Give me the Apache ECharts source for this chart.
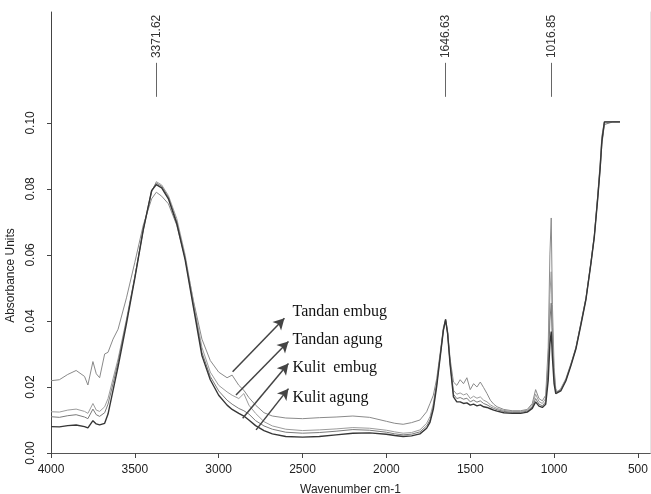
<!DOCTYPE html>
<html>
<head>
<meta charset="utf-8">
<title>FTIR spectra</title>
<script src="https://cdn.jsdelivr.net/npm/echarts@6/dist/echarts.min.js"></script>
<style>
  html, body { margin: 0; padding: 0; background: #fff; }
  #main { width: 651px; height: 494px; }
</style>
</head>
<body>
<div id="main"></div>
<script>
// wavenumber (cm-1), shared by the four spectra
const wavenumbers = [
  4000, 3950, 3900, 3850, 3800, 3780, 3750, 3730, 3710, 3680,
  3660, 3630, 3600, 3550, 3500, 3450, 3400, 3372, 3340, 3300,
  3250, 3200, 3150, 3100, 3050, 3000, 2950, 2920, 2880, 2850,
  2820, 2780, 2730, 2680, 2600, 2500, 2400, 2300, 2200, 2100,
  2000, 1950, 1900, 1850, 1800, 1760, 1740, 1720, 1700, 1680,
  1660, 1647, 1635, 1620, 1600, 1580, 1560, 1540, 1520, 1500,
  1480, 1460, 1440, 1420, 1400, 1380, 1360, 1340, 1300, 1250,
  1200, 1160, 1130, 1110, 1090, 1070, 1050, 1035, 1025, 1017,
  1010, 1000, 990, 980, 960, 930, 900, 870, 840, 810,
  780, 760, 740, 725, 715, 700, 650, 607
]

// absorbance, Tandan embug
const tandanEmbug = [
  0.0219, 0.0222, 0.0238, 0.0250, 0.0232, 0.0206, 0.0277, 0.0240, 0.0228, 0.0300,
  0.0305, 0.0345, 0.0375, 0.0470, 0.0578, 0.0690, 0.0770, 0.0790, 0.0778, 0.0755,
  0.0690, 0.0590, 0.0460, 0.0345, 0.0280, 0.0245, 0.0228, 0.0236, 0.0205, 0.0190,
  0.0168, 0.0145, 0.0122, 0.0112, 0.0106, 0.0104, 0.0107, 0.0109, 0.0112, 0.0108,
  0.0096, 0.0090, 0.0087, 0.0092, 0.0100, 0.0125, 0.0150, 0.0175, 0.0225, 0.0300,
  0.0380, 0.0405, 0.0370, 0.0285, 0.0215, 0.0205, 0.0222, 0.0210, 0.0228, 0.0192,
  0.0210, 0.0200, 0.0215, 0.0198, 0.0180, 0.0160, 0.0148, 0.0140, 0.0132, 0.0128,
  0.0128, 0.0132, 0.0150, 0.0192, 0.0165, 0.0158, 0.0175, 0.0320, 0.0600, 0.0712,
  0.0450, 0.0260, 0.0195, 0.0185, 0.0195, 0.0225, 0.0270, 0.0320, 0.0395, 0.0470,
  0.0580, 0.0660, 0.0780, 0.0880, 0.0960, 0.1003, 0.1003, 0.1003
]

// absorbance, Tandan agung
const tandanAgung = [
  0.0125, 0.0124, 0.0130, 0.0133, 0.0126, 0.0120, 0.0150, 0.0130, 0.0126, 0.0140,
  0.0165, 0.0225, 0.0285, 0.0405, 0.0535, 0.0675, 0.0790, 0.0822, 0.0812, 0.0780,
  0.0710, 0.0600, 0.0455, 0.0320, 0.0245, 0.0205, 0.0185, 0.0175, 0.0165, 0.0180,
  0.0145, 0.0120, 0.0095, 0.0082, 0.0072, 0.0068, 0.0070, 0.0073, 0.0077, 0.0075,
  0.0069, 0.0064, 0.0060, 0.0062, 0.0070, 0.0090, 0.0110, 0.0150, 0.0215, 0.0295,
  0.0375, 0.0402, 0.0365, 0.0275, 0.0190, 0.0178, 0.0182, 0.0176, 0.0180, 0.0165,
  0.0172, 0.0166, 0.0170, 0.0160, 0.0155, 0.0146, 0.0140, 0.0135, 0.0129, 0.0126,
  0.0126, 0.0130, 0.0145, 0.0178, 0.0156, 0.0150, 0.0165, 0.0280, 0.0480, 0.0549,
  0.0380, 0.0240, 0.0190, 0.0183, 0.0193, 0.0222, 0.0268, 0.0318, 0.0392, 0.0468,
  0.0578, 0.0658, 0.0775, 0.0870, 0.0945, 0.1000, 0.1003, 0.1003
]

// absorbance, Kulit embug
const kulitEmbug = [
  0.0110, 0.0108, 0.0113, 0.0116, 0.0109, 0.0104, 0.0133, 0.0116, 0.0111, 0.0122,
  0.0148, 0.0210, 0.0275, 0.0400, 0.0533, 0.0678, 0.0795, 0.0818, 0.0808, 0.0775,
  0.0700, 0.0590, 0.0445, 0.0305, 0.0232, 0.0188, 0.0160, 0.0148, 0.0135, 0.0128,
  0.0118, 0.0098, 0.0082, 0.0072, 0.0063, 0.0060, 0.0062, 0.0066, 0.0071, 0.0069,
  0.0063, 0.0058, 0.0055, 0.0057, 0.0064, 0.0082, 0.0100, 0.0140, 0.0208, 0.0290,
  0.0372, 0.0400, 0.0362, 0.0270, 0.0178, 0.0165, 0.0168, 0.0163, 0.0166, 0.0155,
  0.0160, 0.0154, 0.0158, 0.0150, 0.0146, 0.0140, 0.0135, 0.0131, 0.0126, 0.0123,
  0.0123, 0.0127, 0.0140, 0.0165, 0.0148, 0.0143, 0.0155, 0.0250, 0.0400, 0.0454,
  0.0330, 0.0225, 0.0185, 0.0180, 0.0190, 0.0220, 0.0266, 0.0316, 0.0390, 0.0466,
  0.0575, 0.0655, 0.0770, 0.0860, 0.0935, 0.0995, 0.1003, 0.1003
]

// absorbance, Kulit agung
const kulitAgung = [
  0.0080, 0.0079, 0.0083, 0.0085, 0.0080, 0.0076, 0.0098, 0.0088, 0.0085, 0.0090,
  0.0118, 0.0190, 0.0262, 0.0392, 0.0530, 0.0675, 0.0795, 0.0813, 0.0803, 0.0770,
  0.0695, 0.0585, 0.0440, 0.0295, 0.0222, 0.0175, 0.0145, 0.0132, 0.0120, 0.0112,
  0.0100, 0.0083, 0.0068, 0.0058, 0.0050, 0.0048, 0.0050, 0.0055, 0.0060, 0.0061,
  0.0057, 0.0053, 0.0050, 0.0052, 0.0058, 0.0075, 0.0093, 0.0133, 0.0202, 0.0287,
  0.0372, 0.0405, 0.0362, 0.0268, 0.0170, 0.0155, 0.0155, 0.0150, 0.0152, 0.0145,
  0.0148, 0.0143, 0.0146, 0.0140, 0.0138, 0.0134, 0.0130, 0.0127, 0.0122, 0.0120,
  0.0120, 0.0124, 0.0135, 0.0155, 0.0142, 0.0138, 0.0148, 0.0220, 0.0330, 0.0368,
  0.0290, 0.0210, 0.0180, 0.0177, 0.0188, 0.0218, 0.0264, 0.0315, 0.0388, 0.0465,
  0.0575, 0.0655, 0.0770, 0.0865, 0.0945, 0.1003, 0.1003, 0.1003
]

const xTicks = [4000, 3500, 3000, 2500, 2000, 1500, 1000, 500]
const yTicks = [0, 0.02, 0.04, 0.06, 0.08, 0.10]

// peak positions marked at the top
const peaks = [3371.62, 1646.63, 1016.85]

// arrows pointing from each spectrum to its name
const sampleNames = ['Tandan embug', 'Tandan agung', 'Kulit  embug', 'Kulit agung']
const arrowFrom = [[2917, 0.0246], [2897, 0.0176], [2857, 0.0105], [2777, 0.0070]]
const arrowTo = [[2608, 0.0408], [2584, 0.0338], [2584, 0.0271], [2584, 0.0195]]
const textAt = [[2560, 0.0428], [2560, 0.0344], [2560, 0.0258], [2560, 0.0168]]

const chart = echarts.init(document.getElementById('main'))

const toPairs = (ys) => wavenumbers.map((w, i) => [w, ys[i]])

const axisFont = { fontFamily: 'Liberation Sans, Arial, sans-serif', fontSize: 12, color: '#222' }

// peak tick lines + labels
const peakLines = peaks.map(p => [
  { coord: [p, 0.1079], lineStyle: { color: '#666', width: 1, type: 'solid' } },
  { coord: [p, 0.1182] }
])
const peakLabels = peaks.map(p => ({
  coord: [p, 0.1262],
  symbolSize: 0,
  label: {
    show: true, position: 'inside', rotate: 90, formatter: p.toFixed(2),
    fontFamily: 'Liberation Sans, Arial, sans-serif', fontSize: 12, color: '#333'
  }
}))

// arrows + sample names
const arrows = sampleNames.map((n, i) => [
  { coord: arrowFrom[i], lineStyle: { color: '#444', width: 1.5, type: 'solid' } },
  { coord: arrowTo[i] }
])
const nameLabels = sampleNames.map((n, i) => ({
  coord: textAt[i],
  symbolSize: 0,
  label: {
    show: true, position: 'right', distance: 0, formatter: n,
    fontFamily: 'Liberation Serif, Times New Roman, serif', fontSize: 16, color: '#111'
  }
}))

const option = {
  animation: false,
  backgroundColor: '#fff',
  grid: { left: 51, right: 1, top: 12, bottom: 41, show: false, outerBoundsMode: 'none', containLabel: false },
  xAxis: [
    {
      type: 'value',
      inverse: true,
      min: 428,
      max: 4000,
      name: 'Wavenumber cm-1',
      nameLocation: 'middle',
      nameGap: 31,
      nameTextStyle: { fontFamily: 'Liberation Sans, Arial, sans-serif', fontSize: 12, color: '#222' },
      axisLine: { show: true, onZero: false, lineStyle: { color: '#444', width: 1 } },
      axisTick: { show: true, length: 5, customValues: xTicks, lineStyle: { color: '#444' } },
      axisLabel: Object.assign({ customValues: xTicks, margin: 11, formatter: v => String(v) }, axisFont),
      splitLine: { show: false }
    },
    {
      type: 'value',
      inverse: true,
      min: 428,
      max: 4000,
      position: 'top',
      axisLine: { show: true, lineStyle: { color: '#555', width: 1 } },
      axisTick: { show: false },
      axisLabel: { show: false },
      splitLine: { show: false }
    }
  ],
  yAxis: [
    {
      type: 'value',
      min: 0,
      max: 0.1336,
      name: 'Absorbance Units',
      nameLocation: 'middle',
      nameGap: 30,
      nameTextStyle: {
        fontFamily: 'Liberation Sans, Arial, sans-serif', fontSize: 12, color: '#222',
        padding: [0, 86, 0, 0]
      },
      axisLine: { show: true, lineStyle: { color: '#444', width: 1 } },
      axisTick: { show: true, length: 4, customValues: yTicks, lineStyle: { color: '#444' } },
      axisLabel: Object.assign({
        customValues: yTicks, rotate: 90, margin: 14,
        formatter: v => v.toFixed(2)
      }, axisFont),
      splitLine: { show: false }
    },
    {
      type: 'value',
      min: 0,
      max: 0.1336,
      position: 'right',
      axisLine: { show: true, lineStyle: { color: '#e4e4e4', width: 1 } },
      axisTick: { show: false },
      axisLabel: { show: false },
      splitLine: { show: false }
    }
  ],
  series: [
    {
      name: 'Tandan embug', type: 'line', showSymbol: false,
      data: toPairs(tandanEmbug),
      lineStyle: { color: '#8a8a8a', width: 1 }
    },
    {
      name: 'Tandan agung', type: 'line', showSymbol: false,
      data: toPairs(tandanAgung),
      lineStyle: { color: '#9c9c9c', width: 1 }
    },
    {
      name: 'Kulit embug', type: 'line', showSymbol: false,
      data: toPairs(kulitEmbug),
      lineStyle: { color: '#7a7a7a', width: 1 }
    },
    {
      name: 'Kulit agung', type: 'line', showSymbol: false,
      data: toPairs(kulitAgung),
      lineStyle: { color: '#363636', width: 1.4 },
      markLine: {
        silent: true,
        symbol: ['none', 'none'],
        label: { show: false },
        data: peakLines
      },
      markPoint: {
        silent: true,
        data: peakLabels.concat(nameLabels)
      }
    },
    {
      // invisible carrier for the arrows
      name: 'arrows', type: 'line', data: [],
      markLine: {
        silent: true,
        symbol: ['none', 'arrow'],
        symbolSize: [9, 11],
        label: { show: false },
        data: arrows
      }
    }
  ]
}

chart.setOption(option)
</script>
</body>
</html>
